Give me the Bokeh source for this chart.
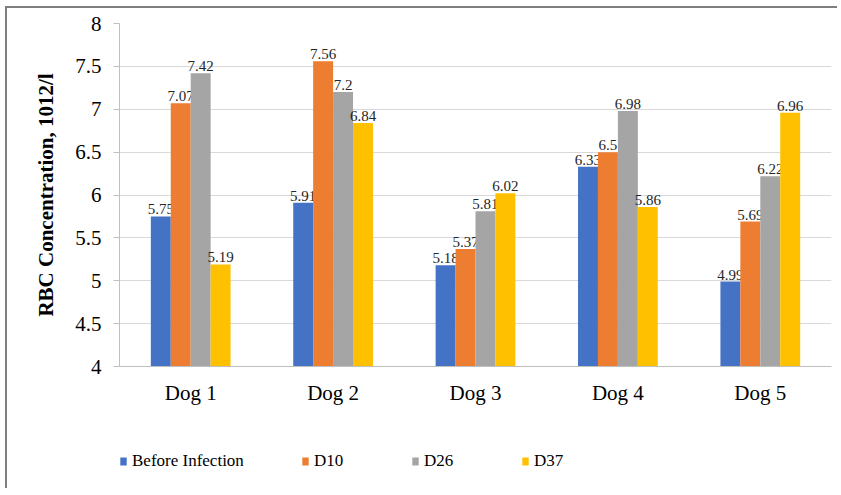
from bokeh.plotting import figure
from bokeh.layouts import column
from bokeh.models import ColumnDataSource, FactorRange, Legend, LegendItem, FixedTicker, Range1d
from bokeh.transform import dodge
from bokeh.embed import file_html
from bokeh.resources import INLINE

dogs = ["Dog 1", "Dog 2", "Dog 3", "Dog 4", "Dog 5"]
before_infection = [5.75, 5.91, 5.18, 6.33, 4.99]
d10 = [7.07, 7.56, 5.37, 6.5, 5.69]
d26 = [7.42, 7.2, 5.81, 6.98, 6.22]
d37 = [5.19, 6.84, 6.02, 5.86, 6.96]
series_names = ["Before Infection", "D10", "D26", "D37"]
y_ticks = [4, 4.5, 5, 5.5, 6, 6.5, 7, 7.5, 8]
y_label = "RBC Concentration, 1012/l"

colors = ["#4472C4", "#ED7D31", "#A5A5A5", "#FFC000"]
offsets = [-0.21, -0.07, 0.07, 0.21]
bar_w = 0.14
SERIF = "Liberation Serif"

data = {"dog": dogs, "s0": before_infection, "s1": d10, "s2": d26, "s3": d37}
for i, key in enumerate(["s0", "s1", "s2", "s3"]):
    data[key + "_lbl"] = [f"{v:g}" for v in data[key]]
src = ColumnDataSource(data)

xr = FactorRange(*dogs, range_padding=0, group_padding=0)

p = figure(x_range=xr, y_range=Range1d(4, 8),
           width=830, height=404, output_backend="svg", toolbar_location=None,
           min_border_left=112, min_border_right=6, min_border_top=15, min_border_bottom=46)

for i, key in enumerate(["s0", "s1", "s2", "s3"]):
    p.vbar(x=dodge("dog", offsets[i], range=xr), top=key, bottom=4, width=bar_w,
           source=src, fill_color=colors[i], line_color=None)
    p.text(x=dodge("dog", offsets[i], range=xr), y=key, text=key + "_lbl", source=src,
           text_align="center", text_baseline="bottom", y_offset=-2,
           text_font=SERIF, text_font_size="15px", text_color="#262626")

p.outline_line_color = None
p.xgrid.grid_line_color = None
p.ygrid.grid_line_color = "#d9d9d9"
p.ygrid.ticker = FixedTicker(ticks=y_ticks)

p.yaxis.ticker = FixedTicker(ticks=y_ticks)
p.yaxis.major_label_overrides = {t: f"{t:g}" for t in y_ticks}
p.yaxis.major_label_text_font = SERIF
p.yaxis.major_label_text_font_size = "21px"
p.yaxis.major_label_text_color = "#000000"
p.yaxis.axis_line_color = "#bfbfbf"
p.yaxis.major_tick_line_color = "#bfbfbf"
p.yaxis.major_tick_out = 6
p.yaxis.major_tick_in = 0
p.yaxis.minor_tick_line_color = None
p.yaxis.major_label_standoff = 12
p.yaxis.axis_label = y_label
p.yaxis.axis_label_text_font = SERIF
p.yaxis.axis_label_text_font_size = "21px"
p.yaxis.axis_label_text_font_style = "bold"
p.yaxis.axis_label_text_color = "#000000"
p.yaxis.axis_label_standoff = 14

p.xaxis.major_label_text_font = SERIF
p.xaxis.major_label_text_font_size = "21px"
p.xaxis.major_label_text_color = "#000000"
p.xaxis.axis_line_color = "#bfbfbf"
p.xaxis.major_tick_line_color = None
p.xaxis.minor_tick_line_color = None
p.xaxis.major_label_standoff = 8

# legend strip below the chart (its bars lie outside its visible y range)
lf = figure(width=830, height=76, x_range=xr, y_range=Range1d(100, 101),
            output_backend="svg", toolbar_location=None, x_axis_type=None, y_axis_type=None,
            min_border_left=112, min_border_right=6, min_border_top=0, min_border_bottom=0)
lf.outline_line_color = None
lf.grid.visible = False
leg_renderers = []
for i, key in enumerate(["s0", "s1", "s2", "s3"]):
    leg_renderers.append(lf.vbar(x=dodge("dog", offsets[i], range=xr), top=key, bottom=4, width=bar_w,
                                 source=src, fill_color=colors[i], line_color=None))
legend = Legend(items=[LegendItem(label=series_names[i], renderers=[leg_renderers[i]]) for i in range(4)],
                orientation="horizontal", location=(0, 17),
                label_text_font=SERIF, label_text_font_size="17px", label_text_color="#000000",
                glyph_width=8, glyph_height=10, label_standoff=5, spacing=57, label_width=40,
                padding=0, margin=0, border_line_color=None, background_fill_alpha=0)
lf.add_layout(legend, "center")

layout = column(p, lf, spacing=0,
                styles={"border-top": "2px solid #7f7f7f", "border-left": "2px solid #7f7f7f",
                        "margin-left": "5px", "margin-top": "6px"})

open("out.html", "w").write(file_html(layout, INLINE))
